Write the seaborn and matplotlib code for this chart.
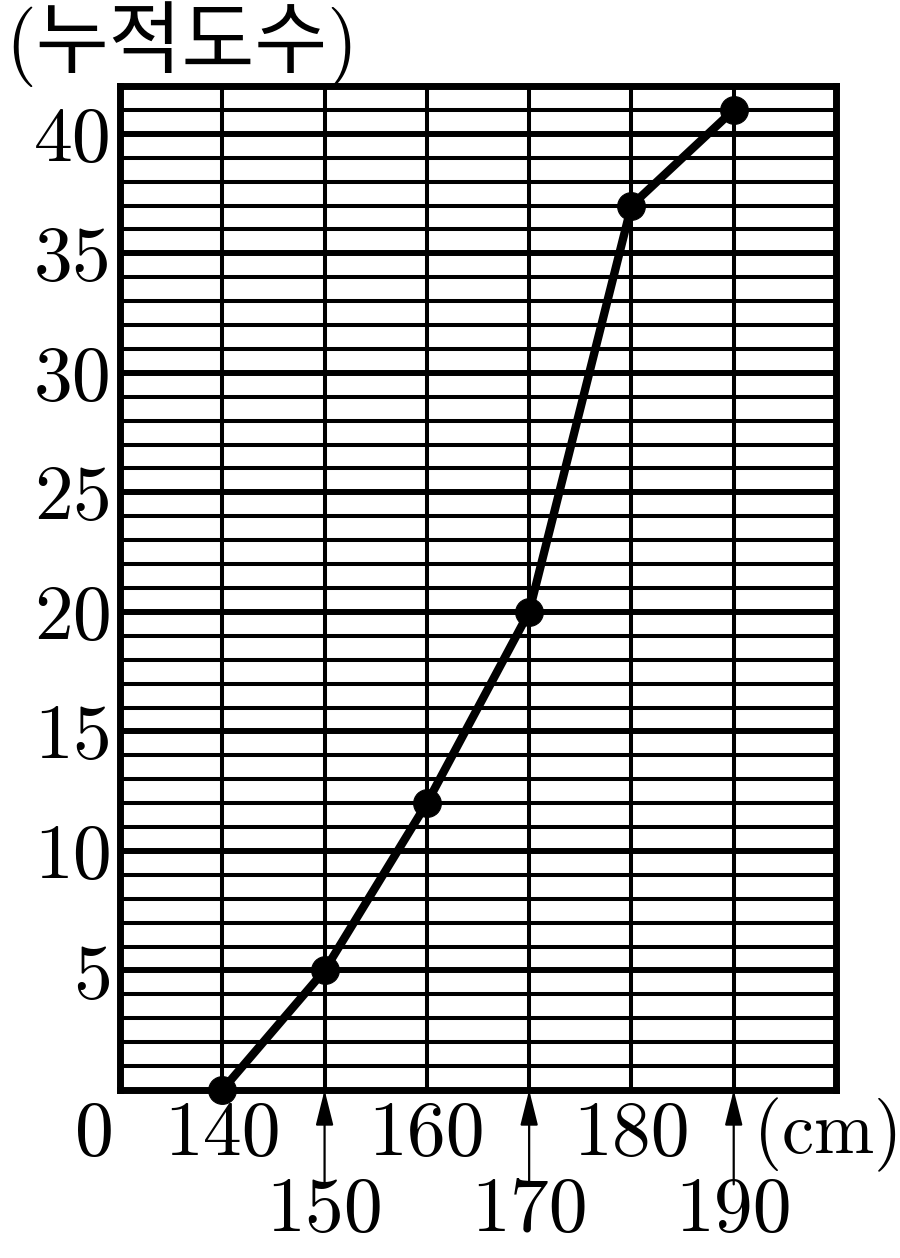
import matplotlib
matplotlib.use("Agg")
import matplotlib.pyplot as plt
import pandas as pd
import seaborn as sns

heights = [140, 150, 160, 170, 180, 190]
cum_freq = [0, 5, 12, 20, 37, 41]
upper_ticks = [140, 160, 180]
lower_ticks = [150, 170, 190]
y_ticks = [5, 10, 15, 20, 25, 30, 35, 40]

df = pd.DataFrame({"height": heights, "cum": cum_freq})

sns.set_theme(style="white")
plt.rcParams["font.family"] = ["cmr10", "Noto Sans CJK KR", "DejaVu Sans"]
plt.rcParams["text.color"] = "black"
plt.rcParams["xtick.color"] = "black"
plt.rcParams["ytick.color"] = "black"

fig = plt.figure(figsize=(9, 12.58), dpi=100)
ax = fig.add_axes([120 / 900, 1 - 1090 / 1258, 716 / 900, 1004 / 1258])

ax.set_xlim(130, 200)
ax.set_ylim(0, 42)

ax.set_xticks(heights)
ax.set_xticklabels([])
ax.set_yticks(y_ticks)
ax.set_yticklabels([str(v) for v in y_ticks], fontsize=56, color="black")
ax.set_yticks(range(1, 42), minor=True)
ax.tick_params(axis="both", which="both", length=0)
ax.tick_params(axis="y", pad=6)

ax.grid(True, axis="x", which="major", color="black", lw=2.9)
ax.grid(True, axis="y", which="major", color="black", lw=4.3)
ax.grid(True, axis="y", which="minor", color="black", lw=2.9)
ax.set_axisbelow(True)

for sp in ax.spines.values():
    sp.set_color("black")
    sp.set_linewidth(5)

sns.lineplot(data=df, x="height", y="cum", color="black", lw=6,
             marker="o", markersize=20, markeredgecolor="black", ax=ax,
             clip_on=False, zorder=5)
ax.set_xlabel("")
ax.set_ylabel("")

xt = ax.get_xaxis_transform()
for h in upper_ticks:
    ax.text(h, -0.045, str(h), transform=xt, ha="center", va="center",
            fontsize=56, color="black")
for h in lower_ticks:
    ax.text(h, -0.121, str(h), transform=xt, ha="center", va="center",
            fontsize=56, color="black")
    ax.annotate("", xy=(h, 0), xycoords=xt, xytext=(h, -0.094), textcoords=xt,
                arrowprops=dict(arrowstyle="-|>,head_length=0.6,head_width=0.15",
                                mutation_scale=36, lw=1.6, color="black",
                                shrinkA=0, shrinkB=0))

ax.text(127.5, -0.045, "0", transform=xt, ha="center", va="center",
        fontsize=56, color="black")
ax.text(192.0, -0.045, "(cm)", transform=xt, ha="left", va="center",
        fontsize=52, color="black")

fig.text(5 / 900, 1 - 45 / 1258, "(누적도수)", ha="left", va="center", fontsize=57,
         color="black", family=["cmr10", "Noto Sans CJK KR"])

fig.savefig("out.png", dpi=100)
